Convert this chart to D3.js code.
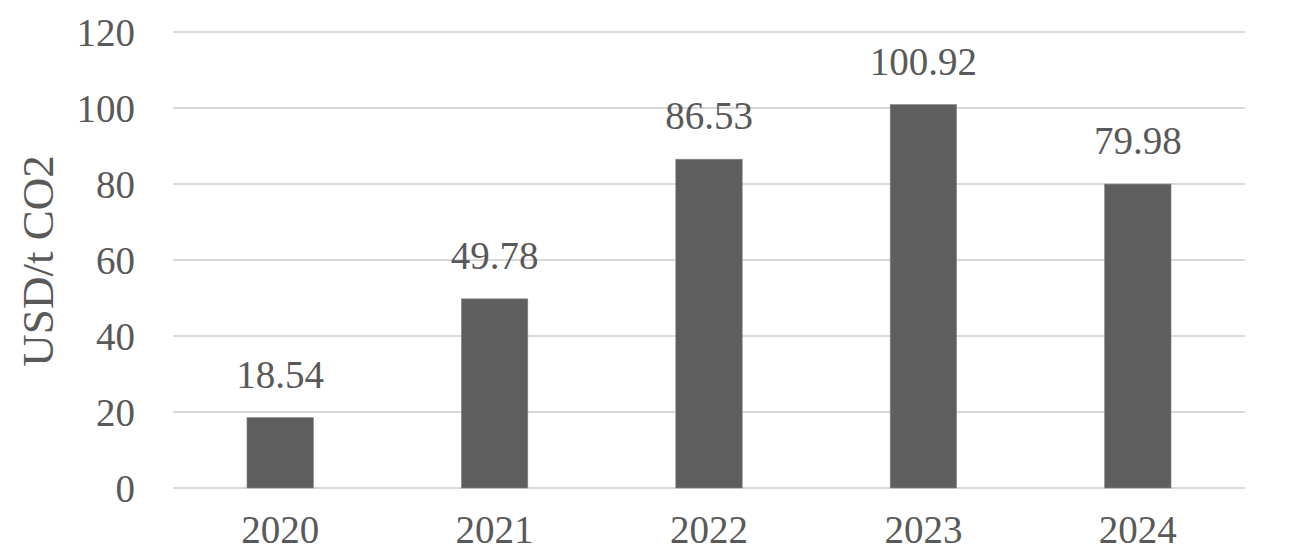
<!DOCTYPE html>
<html>
<head>
<meta charset="utf-8">
<script src="https://cdn.jsdelivr.net/npm/d3@7"></script>
<style>
  html, body { margin: 0; padding: 0; background: #fff; }
  svg { display: block; }
</style>
</head>
<body>
<div id="chart"></div>
<script>
var years = ["2020", "2021", "2022", "2023", "2024"];
var prices = [18.54, 49.78, 86.53, 100.92, 79.98];
var yTicks = [0, 20, 40, 60, 80, 100, 120];
var yTitle = "USD/t CO2";

var serif = "Liberation Serif, DejaVu Serif, serif";
var textColor = "#595959";

var width = 1297, height = 550;
var margin = {top: 32, right: 52, bottom: 62, left: 173};
var innerW = width - margin.left - margin.right;
var innerH = height - margin.top - margin.bottom;

var svg = d3.select("#chart").append("svg")
  .attr("width", width)
  .attr("height", height)
  .attr("font-family", serif);

var g = svg.append("g")
  .attr("transform", "translate(" + margin.left + "," + margin.top + ")");

var x = d3.scaleBand().domain(years).range([0, innerW]).padding(0);
var y = d3.scaleLinear().domain([0, 120]).range([innerH, 0]);
var barW = x.bandwidth() * 0.31;

// gridlines
g.selectAll(".grid")
  .data(yTicks).enter()
  .append("line")
  .attr("class", "grid")
  .attr("x1", 0).attr("x2", innerW)
  .attr("y1", function(d) { return y(d); })
  .attr("y2", function(d) { return y(d); })
  .attr("stroke", "#d9d9d9")
  .attr("stroke-width", 2);

// y axis labels
var yAxis = d3.axisLeft(y).tickValues(yTicks).tickSize(0).tickPadding(38);
g.append("g").call(yAxis)
  .attr("font-family", serif)
  .call(function(a) { a.select(".domain").remove(); })
  .selectAll("text")
  .attr("font-size", 39)
  .attr("dy", "0.34em")
  .attr("fill", textColor);

// bars
g.selectAll(".bar")
  .data(prices).enter()
  .append("rect")
  .attr("class", "bar")
  .attr("x", function(d, i) { return x(years[i]) + x.bandwidth() / 2 - barW / 2; })
  .attr("y", function(d) { return y(d); })
  .attr("width", barW)
  .attr("height", function(d) { return innerH - y(d); })
  .attr("fill", "#5e5e5e")
  .attr("stroke", "#8a8a8a")
  .attr("stroke-width", 0.6);

// value labels
g.selectAll(".val")
  .data(prices).enter()
  .append("text")
  .attr("class", "val")
  .attr("x", function(d, i) { return x(years[i]) + x.bandwidth() / 2; })
  .attr("y", function(d) { return y(d) - 30; })
  .attr("text-anchor", "middle")
  .attr("font-size", 39)
  .attr("fill", textColor)
  .text(function(d) { return d.toFixed(2); });

// x axis labels (the source crops these at the bottom; kept whole here)
var xAxis = d3.axisBottom(x).tickSize(0).tickPadding(0);
g.append("g")
  .attr("transform", "translate(0," + innerH + ")")
  .call(xAxis)
  .attr("font-family", serif)
  .call(function(a) { a.select(".domain").remove(); })
  .selectAll("text")
  .attr("font-size", 39)
  .attr("y", 55)
  .attr("dy", 0)
  .attr("fill", textColor);

// y title
svg.append("text")
  .attr("transform", "translate(53,261) rotate(-90)")
  .attr("text-anchor", "middle")
  .attr("font-size", 45)
  .attr("fill", textColor)
  .text(yTitle);
</script>
</body>
</html>
